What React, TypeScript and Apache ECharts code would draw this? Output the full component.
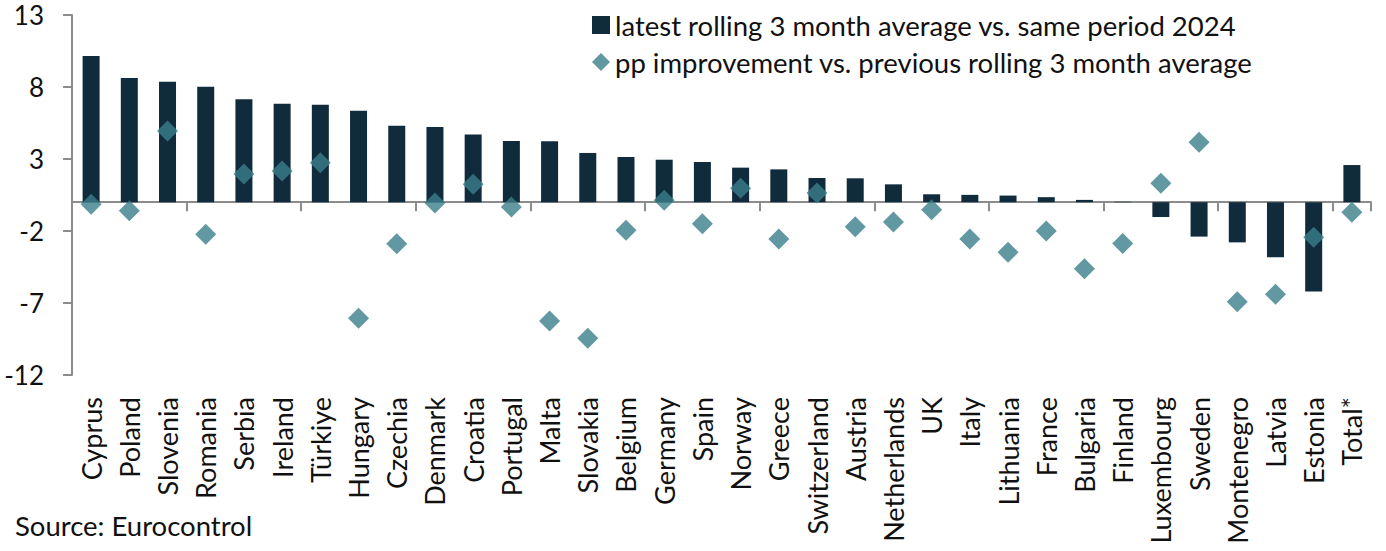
import React, { useEffect, useRef } from "react";
import * as echarts from "echarts";

const countries = [
  "Cyprus", "Poland", "Slovenia", "Romania", "Serbia", "Ireland", "Türkiye", "Hungary",
  "Czechia", "Denmark", "Croatia", "Portugal", "Malta", "Slovakia", "Belgium", "Germany",
  "Spain", "Norway", "Greece", "Switzerland", "Austria", "Netherlands", "UK", "Italy",
  "Lithuania", "France", "Bulgaria", "Finland", "Luxembourg", "Sweden", "Montenegro",
  "Latvia", "Estonia", "Total*",
];

const latestVsSamePeriod2024 = [
  10.15, 8.63, 8.37, 8.02, 7.15, 6.84, 6.77, 6.35,
  5.31, 5.22, 4.71, 4.25, 4.23, 3.42, 3.14, 2.95,
  2.79, 2.4, 2.28, 1.68, 1.66, 1.24, 0.55, 0.51,
  0.46, 0.35, 0.16, 0.03, -1.03, -2.39, -2.79,
  -3.83, -6.21, 2.58,
];

const ppImprovement = [
  -0.15, -0.59, 4.94, -2.23, 1.96, 2.17, 2.74, -8.06,
  -2.88, -0.06, 1.24, -0.33, -8.25, -9.45, -1.95, 0.13,
  -1.49, 0.97, -2.56, 0.64, -1.7, -1.38, -0.52, -2.56,
  -3.48, -2.0, -4.62, -2.86, 1.31, 4.16, -6.91,
  -6.4, -2.44, -0.7,
];

const yTicks = [-12, -7, -2, 3, 8, 13];

const barName = "latest rolling 3 month average vs. same period 2024";
const ppName = "pp improvement vs. previous rolling 3 month average";

export default function App() {
  const ref = useRef<HTMLDivElement>(null);
  useEffect(() => {
    const chart = echarts.init(ref.current!, null, { renderer: "svg" });
    const font = "Lato";
    const axisColor = "#8c8c8c";
    chart.setOption({
      animation: false,
      textStyle: { fontFamily: font },
      grid: { left: 72, right: 15, top: 15, bottom: 176 },
      legend: {
        orient: "vertical",
        left: 587,
        top: 6,
        itemWidth: 18,
        itemHeight: 18,
        itemGap: 9,
        data: [
          { name: barName, icon: "rect" },
          { name: ppName, icon: "diamond" },
        ],
        textStyle: { fontSize: 27.5, color: "#111", fontFamily: font },
      },
      xAxis: [
        {
          type: "category",
          data: countries,
          position: "bottom",
          axisLine: { onZero: true, lineStyle: { color: axisColor, width: 2 } },
          axisTick: { show: true, length: 9, lineStyle: { color: axisColor, width: 2 } },
          axisLabel: { show: false },
          splitLine: { show: false },
        },
        {
          type: "category",
          data: countries,
          position: "bottom",
          axisLine: { show: false, onZero: false },
          axisTick: { show: false },
          axisLabel: { rotate: 90, margin: 22, fontSize: 27, color: "#111", interval: 0, fontFamily: font },
          splitLine: { show: false },
        },
      ],
      yAxis: {
        type: "value",
        min: -12,
        max: 13,
        axisLine: { show: true, lineStyle: { color: axisColor, width: 2 } },
        axisTick: { show: true, length: 9, customValues: yTicks, lineStyle: { color: axisColor, width: 2 } },
        axisLabel: { customValues: yTicks, margin: 28, fontSize: 26, color: "#111", fontFamily: font },
        splitLine: { show: false },
      },
      graphic: [
        {
          type: "text",
          left: 15,
          top: 511,
          style: { text: "Source: Eurocontrol", fontSize: 27.5, fill: "#111", fontFamily: font },
        },
      ],
      series: [
        {
          name: barName,
          type: "bar",
          data: latestVsSamePeriod2024,
          barWidth: 17,
          itemStyle: { color: "#102b3c" },
          z: 2,
        },
        {
          name: ppName,
          type: "scatter",
          data: ppImprovement,
          symbol: "diamond",
          symbolSize: 21,
          itemStyle: { color: "#3a7e8b" },
          z: 3,
        },
      ],
    });
    return () => chart.dispose();
  }, []);
  return (
    <div
      ref={ref}
      style={{ position: "fixed", left: 0, top: 0, width: 1386, height: 551, background: "#fff" }}
    />
  );
}
